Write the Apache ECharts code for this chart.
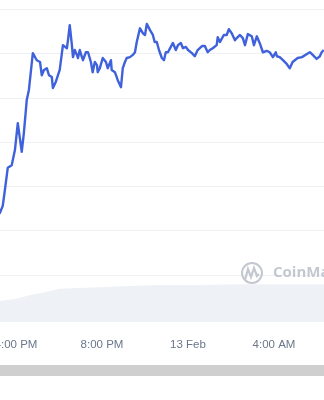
<!DOCTYPE html>
<html>
<head>
<meta charset="utf-8">
<script src="https://cdn.jsdelivr.net/npm/echarts@6/dist/echarts.min.js"></script>
<style>
html,body{margin:0;padding:0;background:#fff;}
#chart{width:324px;height:400px;}
</style>
</head>
<body>
<div id="chart"></div>
<script>
// Time in minutes since 12 Feb 00:00
const priceTimes = [909,915,923,929,937,948,957,965,976,982,990,996,1001,1007,1018,1027,1032,1038,1046,1052,1060,1063,1071,1074,1082,1091,1102,1105,1110,1116,1119,1124,1130,1133,1138,1144,1147,1155,1161,1169,1174,1180,1186,1188,1194,1202,1211,1216,1225,1227,1236,1244,1253,1258,1264,1269,1278,1286,1292,1297,1306,1314,1320,1325,1334,1342,1347,1353,1359,1367,1373,1378,1384,1392,1398,1406,1412,1420,1426,1434,1440,1451,1459,1467,1479,1487,1495,1501,1509,1520,1523,1529,1534,1540,1548,1554,1562,1571,1576,1585,1593,1599,1607,1618,1624,1632,1640,1649,1660,1668,1677,1685,1688,1696,1705,1716,1724,1732,1738,1746,1758,1763,1772,1780,1788,1799,1808,1813,1819,1825];
const prices = [0.4138,0.4140,0.4156,0.4192,0.4242,0.4248,0.4282,0.4343,0.4278,0.4321,0.4395,0.4418,0.4456,0.4501,0.4485,0.4481,0.4451,0.4463,0.4467,0.4451,0.4447,0.4422,0.4436,0.4440,0.4463,0.4519,0.4512,0.4530,0.4564,0.4519,0.4492,0.4508,0.4497,0.4490,0.4508,0.4492,0.4485,0.4503,0.4503,0.4481,0.4458,0.4481,0.4474,0.4458,0.4467,0.4490,0.4481,0.4467,0.4485,0.4463,0.4458,0.4440,0.4424,0.4467,0.4481,0.4490,0.4492,0.4497,0.4503,0.4526,0.4557,0.4546,0.4542,0.4567,0.4553,0.4542,0.4526,0.4526,0.4508,0.4490,0.4485,0.4503,0.4503,0.4515,0.4524,0.4508,0.4519,0.4524,0.4512,0.4515,0.4508,0.4501,0.4494,0.4508,0.4517,0.4517,0.4503,0.4508,0.4512,0.4519,0.4537,0.4526,0.4530,0.4542,0.4542,0.4555,0.4546,0.4530,0.4535,0.4542,0.4535,0.4519,0.4544,0.4539,0.4519,0.4539,0.4524,0.4503,0.4506,0.4503,0.4492,0.4503,0.4494,0.4492,0.4485,0.4476,0.4467,0.4481,0.4485,0.4490,0.4492,0.4494,0.4499,0.4503,0.4497,0.4488,0.4494,0.4503,0.4508];

const volumeTimes = [909,915,957,1001,1041,1082,1138,1194,1278,1362,1473,1585,1696,1825];
const volumes = [50,50,55,64,71,79,81,83,86,88,88,90,90,90];

const xTickLabels = {960:'4:00 PM',1200:'8:00 PM',1440:'13 Feb',1680:'4:00 AM',1920:'8:00 AM'};
const priceMin = 0.40, priceMax = 0.47, priceStep = 0.01;

const priceData = priceTimes.map((t,i)=>[t,prices[i]]);
const volumeData = volumeTimes.map((t,i)=>[t,volumes[i]]);

const chart = echarts.init(document.getElementById('chart'), null, {renderer:'canvas'});
const xCommon = {type:'value', min:720, max:1920, interval:240};
chart.setOption({
  animation:false,
  backgroundColor:'#ffffff',
  grid:[
    {left:-70, width:430, top:-35, height:310, outerBoundsMode:'none'},
    {left:-70, width:430, top:280, height:42, outerBoundsMode:'none'}
  ],
  xAxis:[
    Object.assign({gridIndex:0, show:false}, xCommon),
    Object.assign({gridIndex:1,
      axisLine:{show:false}, axisTick:{show:false}, splitLine:{show:false},
      axisLabel:{show:true, margin:17, color:'#6b778c', fontSize:11.5,
        fontFamily:'Liberation Sans, Arial, sans-serif', hideOverlap:false,
        formatter:(v)=>xTickLabels[v]||''}
    }, xCommon)
  ],
  yAxis:[
    {gridIndex:0, type:'value', min:priceMin, max:priceMax, interval:priceStep,
      axisLine:{show:false}, axisTick:{show:false}, axisLabel:{show:false},
      splitLine:{show:true, lineStyle:{color:'#eef0f3', width:1}}},
    {gridIndex:1, type:'value', min:0, max:100, show:false, splitLine:{show:false}}
  ],
  series:[
    {type:'line', xAxisIndex:1, yAxisIndex:1, data:volumeData, symbol:'none',
      lineStyle:{width:0}, areaStyle:{color:'#eef1f5', opacity:1}, silent:true, z:1},
    {type:'line', xAxisIndex:0, yAxisIndex:0, data:priceData, symbol:'none',
      lineStyle:{color:'#3f62dc', width:2.4, join:'round'}, smooth:false, z:3}
  ],
  graphic:[
    {type:'rect', left:0, top:365, shape:{width:324, height:11}, style:{fill:'#cfcfcf'}, z:10},
    {type:'circle', shape:{cx:252, cy:273, r:10}, style:{fill:'none', stroke:'#c3c8d0', lineWidth:2}, z:10},
    {type:'polyline', shape:{points:[[245,280],[248,269],[251,277],[254,268],[257,276],[259,274]]},
      style:{fill:'none', stroke:'#c3c8d0', lineWidth:2.2}, z:10},
    {type:'text', x:273, y:273, style:{text:'CoinMarketCap', fill:'#c3c8d0', font:'bold 15px "Open Sans", sans-serif', verticalAlign:'middle'}, z:10}
  ]
});
</script>
</body>
</html>
